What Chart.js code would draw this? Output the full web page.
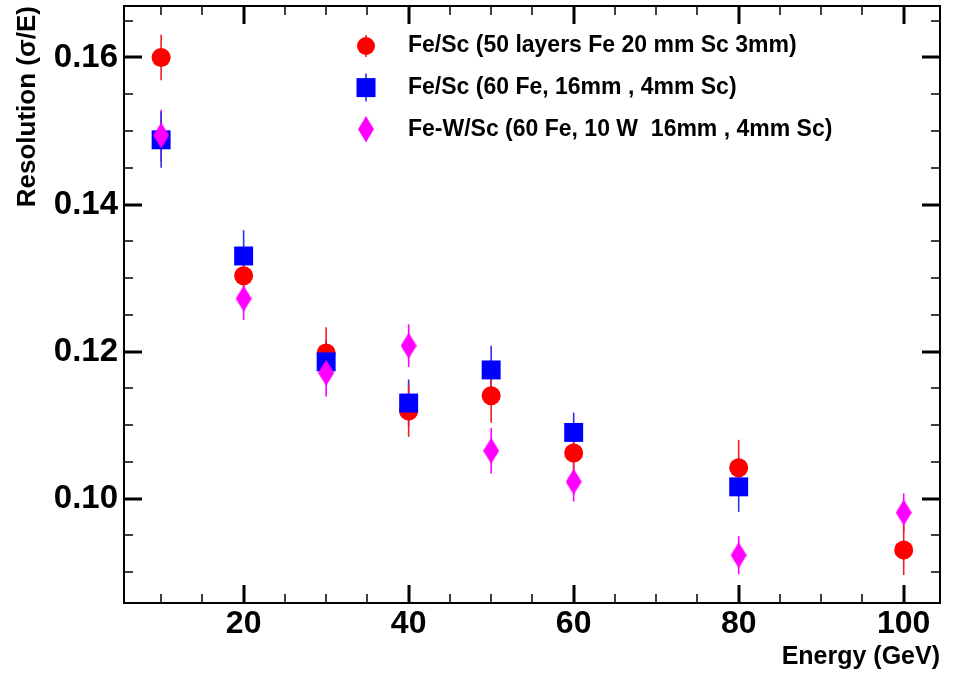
<!DOCTYPE html>
<html>
<head>
<meta charset="utf-8">
<script src="https://cdn.jsdelivr.net/npm/chart.js@4.4.1/dist/chart.umd.min.js"></script>
<style>
  html, body { margin: 0; padding: 0; background: #fff; }
  #c { display: block; }
</style>
</head>
<body>
<canvas id="c" width="954" height="676"></canvas>
<script>
// Beam energies (GeV)
const energies = [10, 20, 30, 40, 50, 60, 80, 100];
const energiesFe60 = [10, 20, 30, 40, 50, 60, 80];

// Fe/Sc, 50 layers: resolution and uncertainty
const resFe50 = [0.1600, 0.1303, 0.1198, 0.1119, 0.1140, 0.1062, 0.1042, 0.0930];
const errFe50 = [0.0031, 0.0030, 0.0035, 0.0035, 0.0037, 0.0030, 0.0038, 0.0034];

// Fe/Sc, 60 Fe layers
const resFe60 = [0.1488, 0.1330, 0.1186, 0.1130, 0.1175, 0.1090, 0.1016];
const errFe60 = [0.0038, 0.0035, 0.0030, 0.0032, 0.0033, 0.0027, 0.0034];

// Fe-W/Sc, 60 Fe + 10 W layers
const resFeW = [0.1494, 0.1272, 0.1171, 0.1208, 0.1065, 0.1023, 0.0923, 0.0981];
const errFeW = [0.0035, 0.0029, 0.0032, 0.0029, 0.0031, 0.0027, 0.0026, 0.0026];

const seriesLabels = [
  'Fe/Sc (50 layers Fe 20 mm Sc 3mm)',
  'Fe/Sc (60 Fe, 16mm , 4mm Sc)',
  'Fe-W/Sc (60 Fe, 10 W  16mm , 4mm Sc)'
];

// Axis ticks
const xTicks = [20, 40, 60, 80, 100];
const xTickLabels = ['20', '40', '60', '80', '100'];
const yTicks = [0.10, 0.12, 0.14, 0.16];
const yTickLabels = ['0.10', '0.12', '0.14', '0.16'];
const xMinorStep = 5;
const yMinorStep = 0.005;

const FONT = '"Liberation Sans", Arial, Helvetica, sans-serif';

// Tall diamond marker
function makeDiamond(w, h, color) {
  const cv = document.createElement('canvas');
  cv.width = w; cv.height = h;
  const g = cv.getContext('2d');
  g.fillStyle = color;
  g.beginPath();
  g.moveTo(w / 2, 0);
  g.lineTo(w, h / 2);
  g.lineTo(w / 2, h);
  g.lineTo(0, h / 2);
  g.closePath();
  g.fill();
  return cv;
}
const diamond = makeDiamond(16, 26, '#ff00ff');

function pts(xs, ys) { return xs.map((x, i) => ({ x: x, y: ys[i] })); }

// Vertical error bars, drawn under the markers
const errorBars = {
  id: 'errorBars',
  beforeDatasetsDraw(chart) {
    const ctx = chart.ctx;
    const xs = chart.scales.x, ys = chart.scales.y;
    ctx.save();
    ctx.beginPath();
    ctx.rect(chart.chartArea.left, chart.chartArea.top,
             chart.chartArea.right - chart.chartArea.left,
             chart.chartArea.bottom - chart.chartArea.top);
    ctx.clip();
    chart.data.datasets.slice().reverse().forEach(ds => {
      ctx.strokeStyle = ds.errorColor;
      ctx.lineWidth = 1.6;
      ds.data.forEach((p, i) => {
        const e = ds.errors[i];
        const px = xs.getPixelForValue(p.x);
        ctx.beginPath();
        ctx.moveTo(px, ys.getPixelForValue(p.y - e));
        ctx.lineTo(px, ys.getPixelForValue(p.y + e));
        ctx.stroke();
      });
    });
    ctx.restore();
  }
};

// Closed frame with inward ticks on all four sides
const frameTicks = {
  id: 'frameTicks',
  afterDraw(chart) {
    const ctx = chart.ctx;
    const a = chart.chartArea;
    const xs = chart.scales.x, ys = chart.scales.y;
    const MAJ = 18, MIN = 9;
    ctx.save();
    ctx.strokeStyle = '#000';
    const tickX = (v, len, w) => {
      const px = Math.round(xs.getPixelForValue(v));
      ctx.lineWidth = w;
      ctx.beginPath();
      ctx.moveTo(px, a.bottom); ctx.lineTo(px, a.bottom - len);
      ctx.moveTo(px, a.top); ctx.lineTo(px, a.top + len);
      ctx.stroke();
    };
    const tickY = (v, len, w) => {
      const py = Math.round(ys.getPixelForValue(v));
      ctx.lineWidth = w;
      ctx.beginPath();
      ctx.moveTo(a.left, py); ctx.lineTo(a.left + len, py);
      ctx.moveTo(a.right, py); ctx.lineTo(a.right - len, py);
      ctx.stroke();
    };
    for (let v = Math.ceil(xs.min / xMinorStep) * xMinorStep; v <= xs.max; v += xMinorStep) {
      if (!xTicks.includes(v)) tickX(v, MIN, 1.5);
    }
    xTicks.forEach(v => tickX(v, MAJ, 3));
    for (let k = Math.ceil(ys.min / yMinorStep); k * yMinorStep <= ys.max; k++) {
      const v = +(k * yMinorStep).toFixed(4);
      if (!yTicks.some(t => Math.abs(t - v) < 1e-6)) tickY(v, MIN, 1.5);
    }
    yTicks.forEach(v => tickY(v, MAJ, 3));
    ctx.lineWidth = 2;
    ctx.strokeRect(a.left, a.top, a.right - a.left, a.bottom - a.top);
    ctx.restore();
  }
};

// Legend box inside the plot area
const rootLegend = {
  id: 'rootLegend',
  afterDatasetsDraw(chart, args, opts) {
    const ctx = chart.ctx;
    const a = chart.chartArea;
    ctx.save();
    ctx.font = 'bold ' + opts.fontSize + 'px ' + FONT;
    ctx.textBaseline = 'middle';
    ctx.textAlign = 'left';
    chart.data.datasets.forEach((ds, i) => {
      const x = a.left + opts.markerX;
      const y = a.top + opts.top + i * opts.rowGap;
      ctx.strokeStyle = ds.errorColor;
      ctx.lineWidth = 1.6;
      ctx.beginPath();
      ctx.moveTo(x, y - opts.bars[i]);
      ctx.lineTo(x, y + opts.bars[i]);
      ctx.stroke();
      ctx.fillStyle = ds.pointBackgroundColor;
      const st = ds.pointStyle;
      if (st === 'circle') {
        ctx.beginPath();
        ctx.arc(x, y, 9, 0, Math.PI * 2);
        ctx.fill();
      } else if (st === 'rect') {
        ctx.fillRect(x - 9.5, y - 9.5, 19, 19);
      } else {
        ctx.drawImage(st, x - st.width / 2, y - st.height / 2);
      }
      ctx.fillStyle = '#000';
      ctx.fillText(ds.label, a.left + opts.textX, y);
    });
    ctx.restore();
  }
};

new Chart(document.getElementById('c'), {
  type: 'scatter',
  data: {
    datasets: [
      {
        label: seriesLabels[0],
        data: pts(energies, resFe50),
        errors: errFe50,
        errorColor: '#ee2020',
        pointStyle: 'circle',
        pointRadius: 9.5,
        pointBackgroundColor: '#ff0000',
        pointBorderWidth: 0,
        order: 3
      },
      {
        label: seriesLabels[1],
        data: pts(energiesFe60, resFe60),
        errors: errFe60,
        errorColor: '#3030e0',
        pointStyle: 'rect',
        pointRadius: 13.4,
        pointBackgroundColor: '#0000ff',
        pointBorderWidth: 0,
        order: 2
      },
      {
        label: seriesLabels[2],
        data: pts(energies, resFeW),
        errors: errFeW,
        errorColor: '#ff00ff',
        pointStyle: diamond,
        pointRadius: 13,
        pointBackgroundColor: '#ff00ff',
        pointBorderWidth: 0,
        order: 1
      }
    ]
  },
  options: {
    responsive: false,
    devicePixelRatio: 1,
    animation: false,
    events: [],
    layout: { autoPadding: false, padding: { left: 0, right: 14, top: 6, bottom: 0 } },
    plugins: {
      legend: { display: false },
      tooltip: { enabled: false },
      rootLegend: { markerX: 242, textX: 284, top: 40, rowGap: 41.6, fontSize: 23, bars: [11, 14, 12] }
    },
    scales: {
      x: {
        type: 'linear',
        position: 'bottom',
        min: 5.5,
        max: 104.4,
        grid: { display: false, drawTicks: false },
        border: { display: false },
        afterBuildTicks: s => { s.ticks = xTicks.map(v => ({ value: v })); },
        afterFit: s => { s.height = 73; s.paddingLeft = 0; s.paddingRight = 0; },
        ticks: {
          padding: 2,
          color: '#000',
          font: { family: FONT, size: 32, weight: 'bold' },
          maxRotation: 0,
          callback: v => xTickLabels[xTicks.indexOf(v)]
        },
        title: {
          display: true,
          text: 'Energy (GeV)',
          align: 'end',
          color: '#000',
          font: { family: FONT, size: 25, weight: 'bold' },
          padding: { top: 0, bottom: 4 }
        }
      },
      y: {
        type: 'linear',
        position: 'left',
        min: 0.0858,
        max: 0.167,
        grid: { display: false, drawTicks: false },
        border: { display: false },
        afterBuildTicks: s => { s.ticks = yTicks.map(v => ({ value: v })); },
        afterFit: s => { s.width = 124; s.paddingTop = 0; s.paddingBottom = 0; },
        ticks: {
          padding: 6,
          color: '#000',
          font: { family: FONT, size: 33, weight: 'bold' },
          callback: v => yTickLabels[yTicks.indexOf(v)]
        },
        title: {
          display: true,
          text: 'Resolution (σ/E)',
          align: 'end',
          color: '#000',
          font: { family: FONT, size: 26, weight: 'bold' },
          padding: { top: 12, bottom: 0 }
        }
      }
    }
  },
  plugins: [errorBars, frameTicks, rootLegend]
});
</script>
</body>
</html>
